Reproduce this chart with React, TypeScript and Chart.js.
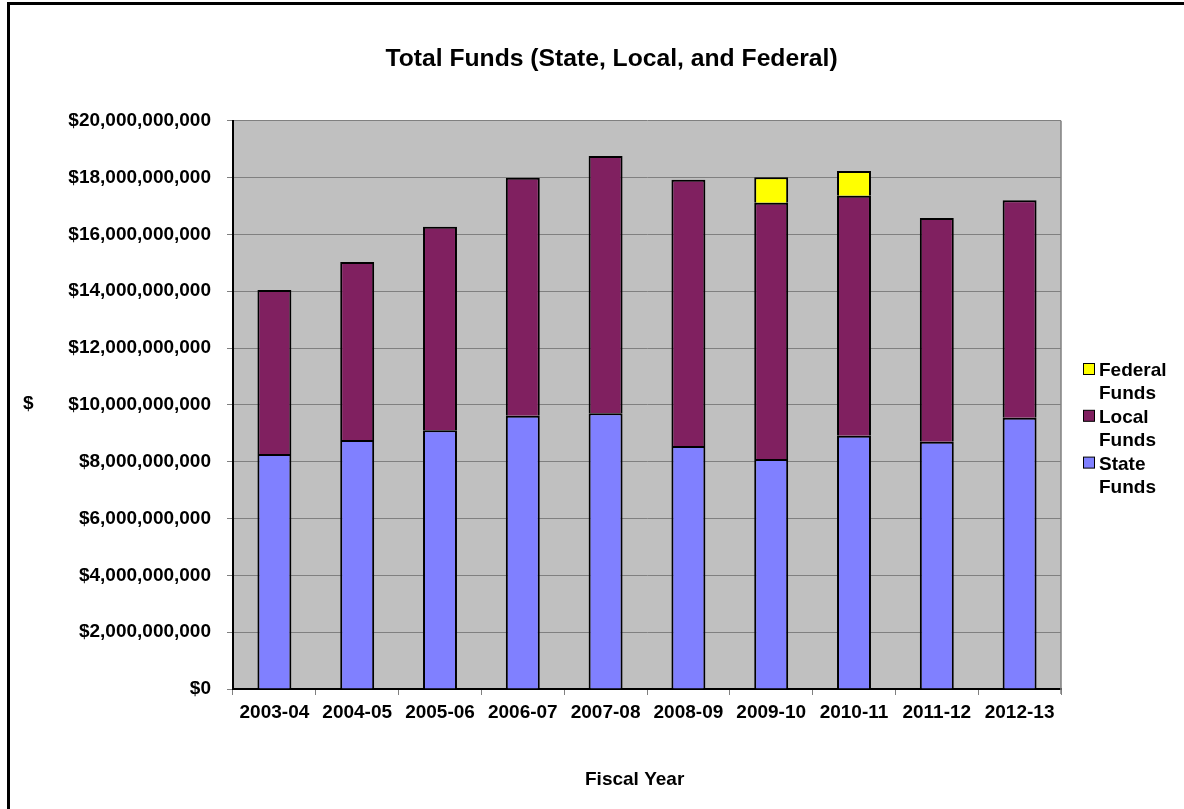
import React, { useEffect, useRef } from "react";
import { Chart, registerables } from "chart.js";

Chart.register(...registerables);

const categories = ["2003-04", "2004-05", "2005-06", "2006-07", "2007-08", "2008-09", "2009-10", "2010-11", "2011-12", "2012-13"];
const stateFunds = [8.27e9, 8.76e9, 9.11e9, 9.62e9, 9.7e9, 8.55e9, 8.09e9, 8.91e9, 8.7e9, 9.55e9];
const localFunds = [5.77e9, 6.27e9, 7.16e9, 8.37e9, 9.06e9, 9.37e9, 9.02e9, 8.45e9, 7.88e9, 7.65e9];
const federalFunds = [null, null, null, null, null, null, 0.9e9, 0.87e9, null, null];
const seriesLabels = ["State Funds", "Local Funds", "Federal Funds"];
const seriesColors = ["#8080FF", "#802060", "#FFFF00"];
const titleText = "Total Funds (State, Local, and Federal)";
const xTitle = "Fiscal Year";
const yTitle = "$";
const yMin = 0;
const yMax = 20e9;
const yStep = 2e9;

const FONT = "'Liberation Sans', Arial, sans-serif";

const decorPlugin = {
  id: "decor",
  beforeDraw(chart: any) {
    const { ctx, chartArea: a } = chart;
    ctx.save();
    ctx.fillStyle = "#C0C0C0";
    ctx.fillRect(a.left, a.top, a.right - a.left, a.bottom - a.top);
    ctx.restore();
  },
  afterDraw(chart: any) {
    const { ctx, chartArea: a } = chart;
    ctx.save();
    // right plot border
    ctx.strokeStyle = "#808080";
    ctx.lineWidth = 1.5;
    ctx.beginPath();
    ctx.moveTo(a.right, a.top);
    ctx.lineTo(a.right, a.bottom + 5);
    ctx.stroke();

    ctx.fillStyle = "#000";
    ctx.textBaseline = "alphabetic";
    // title
    ctx.font = `bold 24.7px ${FONT}`;
    ctx.textAlign = "center";
    ctx.fillText(titleText, 611.5, 66);
    // axis titles
    ctx.font = `bold 19px ${FONT}`;
    ctx.textAlign = "left";
    ctx.fillText(xTitle, 585, 785);
    ctx.fillText(yTitle, 23, 408.5);

    // legend
    const ds = chart.data.datasets.slice().reverse();
    let baseline = 376;
    const step = 23.4;
    ds.forEach((d: any) => {
      const lines = String(d.label).split(" ");
      ctx.fillStyle = d.backgroundColor;
      ctx.fillRect(1083.5, baseline - 12.5, 11, 11);
      ctx.strokeStyle = "#000";
      ctx.lineWidth = 1;
      ctx.strokeRect(1083.5, baseline - 12.5, 11, 11);
      ctx.fillStyle = "#000";
      ctx.font = `bold 19px ${FONT}`;
      lines.forEach((ln: string) => {
        ctx.fillText(ln, 1099, baseline);
        baseline += step;
      });
    });
    ctx.restore();
  },
};

export default function App() {
  const ref = useRef<HTMLCanvasElement | null>(null);
  useEffect(() => {
    if (!ref.current) return;
    const datasets = [stateFunds, localFunds, federalFunds].map((vals, i) => ({
      label: seriesLabels[i],
      data: vals,
      backgroundColor: seriesColors[i],
      borderColor: "#000",
      borderWidth: 2,
      borderSkipped: "start",
      barPercentage: 0.41,
      categoryPercentage: 1,
    }));
    const chart = new Chart(ref.current, {
      type: "bar",
      data: { labels: categories, datasets: datasets as any },
      plugins: [decorPlugin],
      options: {
        animation: false,
        responsive: false,
        devicePixelRatio: 1,
        layout: { padding: { top: 120.7, right: 123, bottom: 0, left: 0 } },
        plugins: { legend: { display: false }, title: { display: false }, tooltip: { enabled: false } },
        scales: {
          x: {
            stacked: true,
            afterFit: (s: any) => {
              s.height = 120;
            },
            grid: { drawOnChartArea: false, drawTicks: true, tickLength: 6, color: "#808080", offset: true },
            border: { color: "#000", width: 2 },
            ticks: { color: "#000", padding: 6, font: { family: FONT, size: 19, weight: "bold" }, maxRotation: 0 },
          },
          y: {
            stacked: true,
            min: yMin,
            max: yMax,
            afterFit: (s: any) => {
              s.width = 233;
            },
            grid: { color: "#808080", lineWidth: 1, tickLength: 6, tickColor: "#808080" },
            border: { color: "#000", width: 2 },
            ticks: {
              stepSize: yStep,
              color: "#000",
              padding: 16,
              font: { family: FONT, size: 19, weight: "bold" },
              callback: (v: any) => "$" + Number(v).toLocaleString("en-US"),
            },
          },
        },
      },
    });
    return () => chart.destroy();
  }, []);
  return (
    <div style={{ position: "fixed", left: 0, top: 0, width: 1184, height: 809, overflow: "hidden", background: "#fff" }}>
      <canvas ref={ref} width={1184} height={809} style={{ position: "absolute", left: 0, top: 0, width: 1184, height: 809 }} />
      <div
        style={{
          position: "absolute",
          left: 7,
          top: 2,
          width: 1250,
          height: 900,
          border: "3px solid #000",
          boxSizing: "border-box",
          pointerEvents: "none",
        }}
      />
    </div>
  );
}
